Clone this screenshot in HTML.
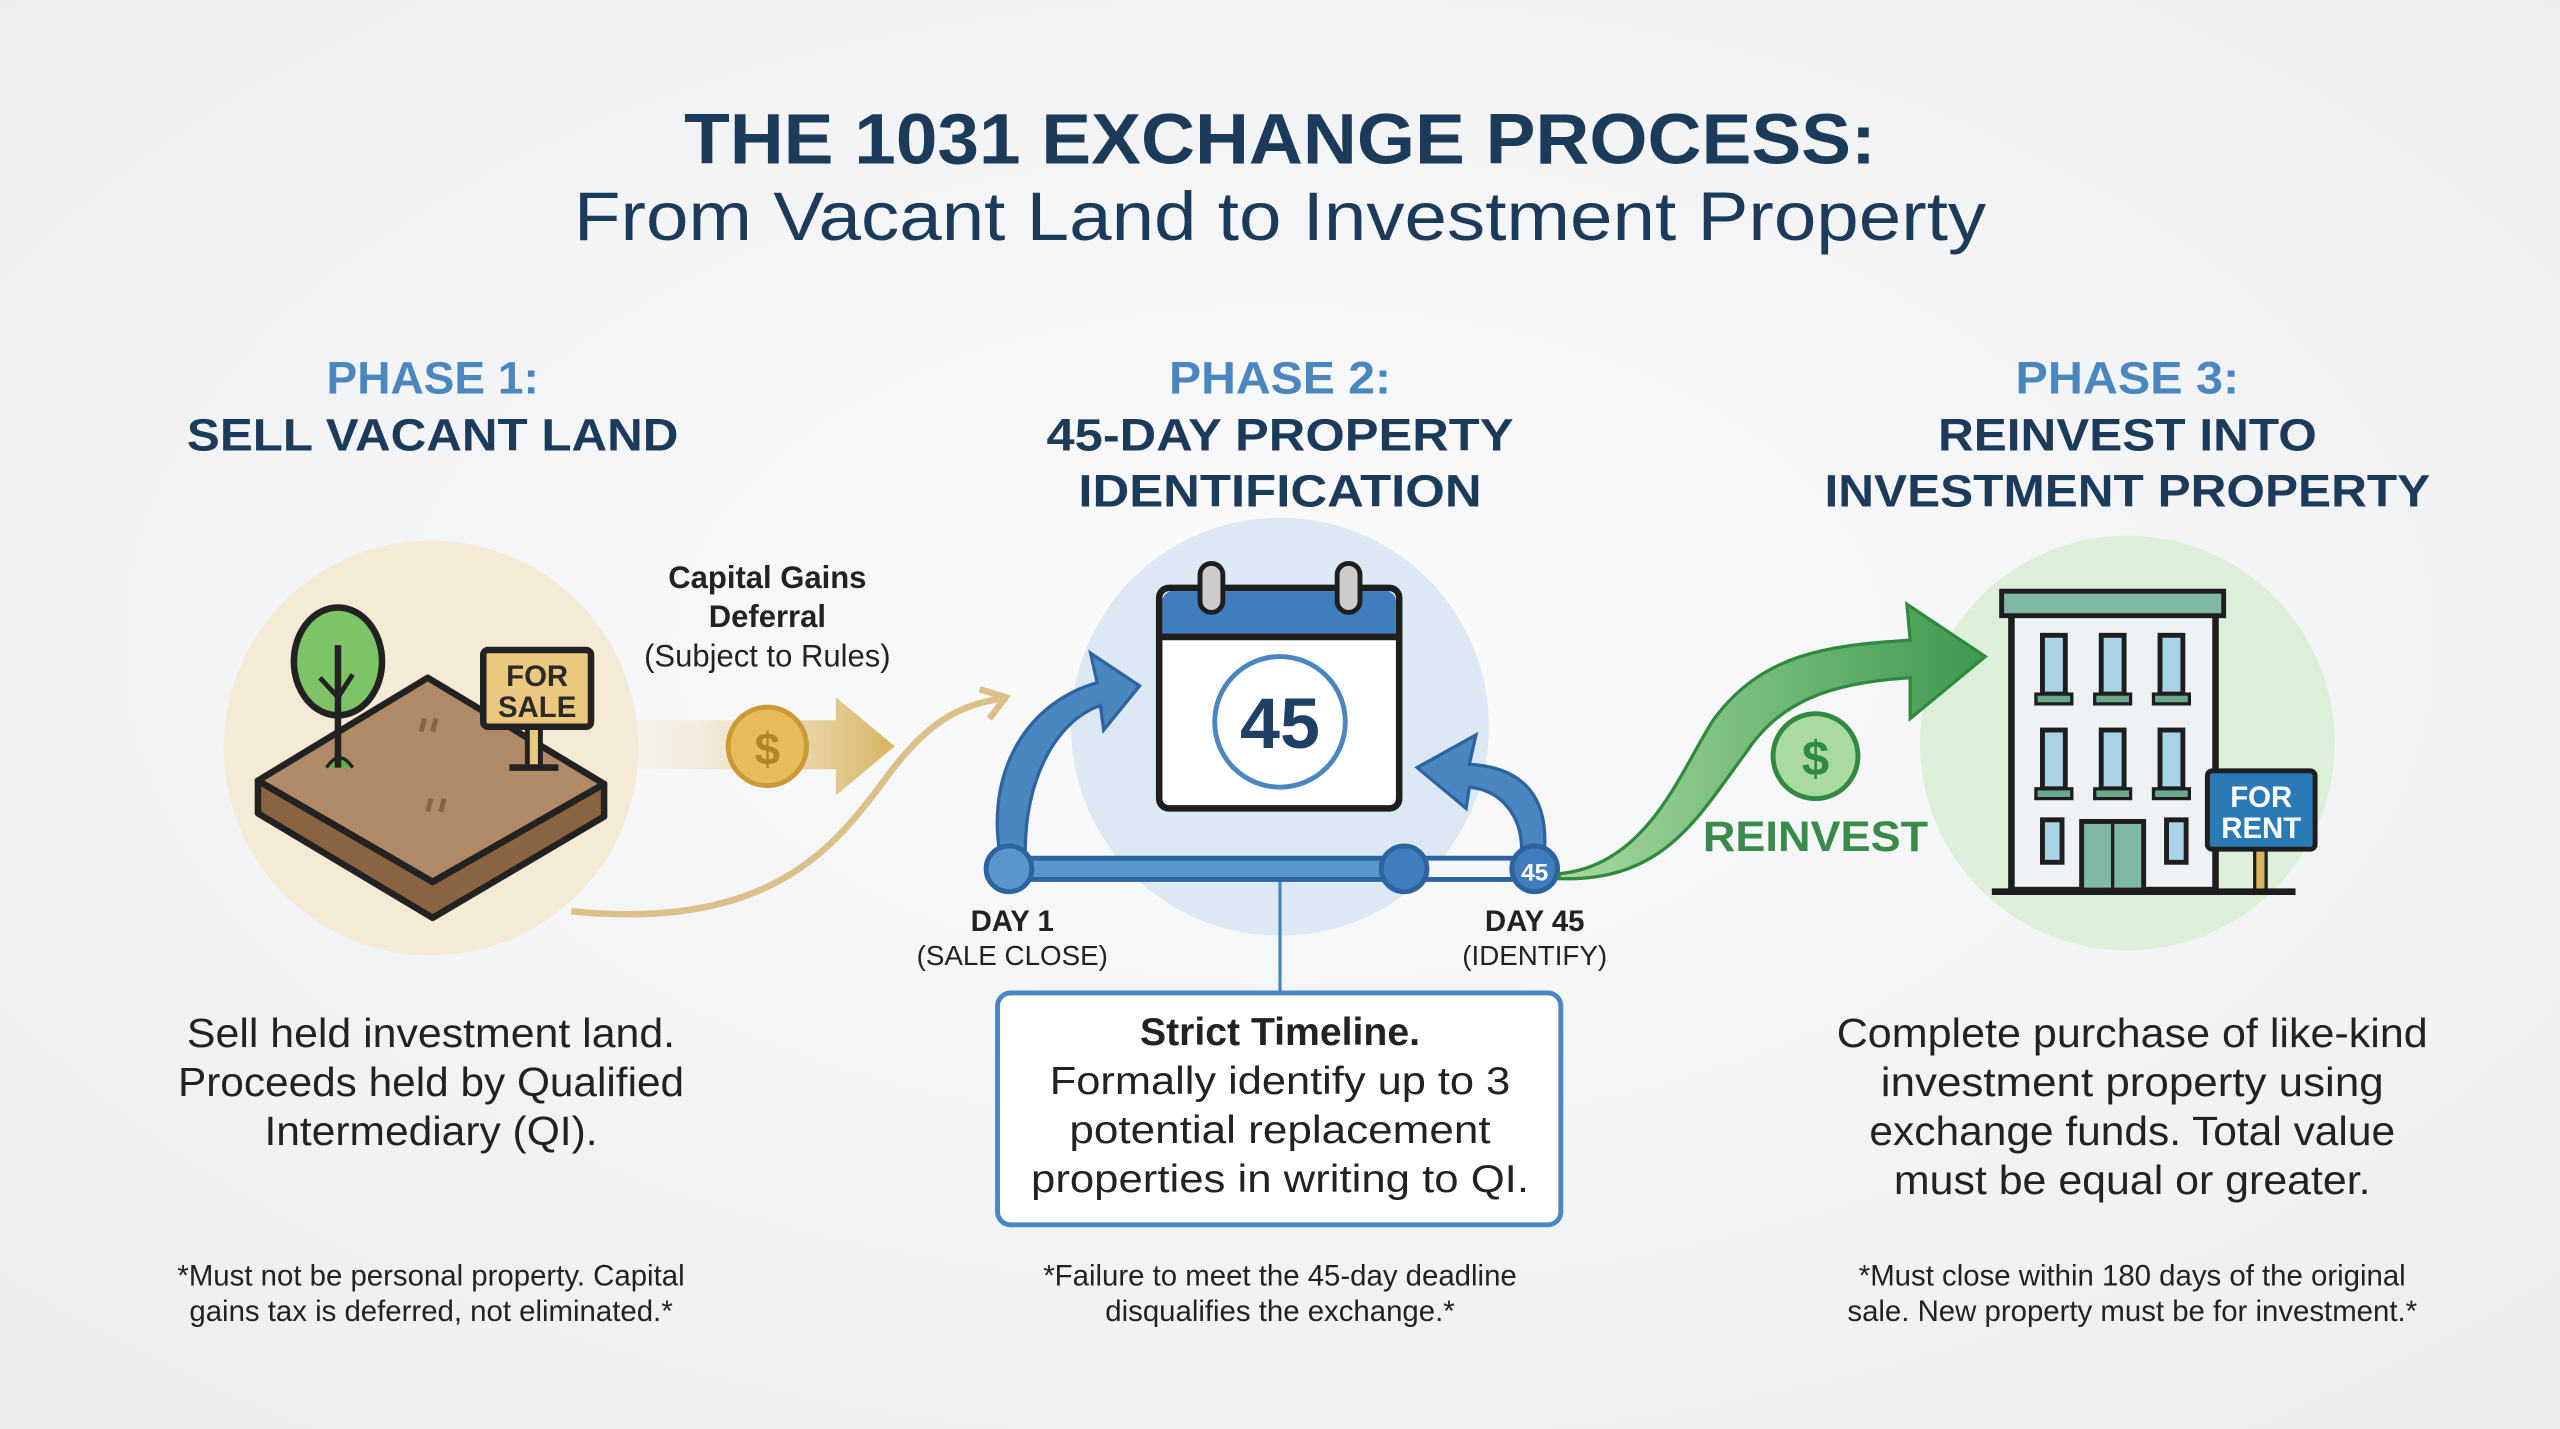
<!DOCTYPE html>
<html><head><meta charset="utf-8"><style>
html,body{margin:0;padding:0;background:#f4f5f6;}
svg{display:block;}
text{font-family:"Liberation Sans",sans-serif;}
</style></head><body>
<svg width="2560" height="1429" viewBox="0 0 1568 875" preserveAspectRatio="none" xmlns="http://www.w3.org/2000/svg">
<defs>
<radialGradient id="bg" cx="50%" cy="45%" r="70%"><stop offset="0" stop-color="#fbfbfc"/><stop offset="1" stop-color="#eceef0"/></radialGradient>
<linearGradient id="gold" x1="0" x2="1"><stop offset="0" stop-color="#f4ead6" stop-opacity="0.3"/><stop offset="1" stop-color="#d8b45e"/></linearGradient>
<linearGradient id="grn" x1="0" x2="1"><stop offset="0" stop-color="#a8d8a0"/><stop offset="1" stop-color="#3d9a4e"/></linearGradient>
</defs>
<rect width="1568" height="875" fill="url(#bg)"/>
<text x="784" y="100" text-anchor="middle" font-size="44" font-weight="bold" fill="#1c3a5a" textLength="730" lengthAdjust="spacingAndGlyphs">THE 1031 EXCHANGE PROCESS:</text>
<text x="784" y="147" text-anchor="middle" font-size="42" fill="#1c3a5a" textLength="865" lengthAdjust="spacingAndGlyphs">From Vacant Land to Investment Property</text>

<g font-size="28" font-weight="bold" text-anchor="middle" lengthAdjust="spacingAndGlyphs">
<text x="265" y="241" fill="#4a86c0" textLength="130" lengthAdjust="spacingAndGlyphs">PHASE 1:</text>
<text x="265" y="276" fill="#1c3a5a" textLength="301" lengthAdjust="spacingAndGlyphs">SELL VACANT LAND</text>
<text x="784" y="241" fill="#4a86c0" textLength="136" lengthAdjust="spacingAndGlyphs">PHASE 2:</text>
<text x="784" y="276" fill="#1c3a5a" textLength="286" lengthAdjust="spacingAndGlyphs">45-DAY PROPERTY</text>
<text x="784" y="310" fill="#1c3a5a" textLength="247" lengthAdjust="spacingAndGlyphs">IDENTIFICATION</text>
<text x="1303" y="241" fill="#4a86c0" textLength="137" lengthAdjust="spacingAndGlyphs">PHASE 3:</text>
<text x="1303" y="276" fill="#1c3a5a" textLength="232" lengthAdjust="spacingAndGlyphs">REINVEST INTO</text>
<text x="1303" y="310" fill="#1c3a5a" textLength="371" lengthAdjust="spacingAndGlyphs">INVESTMENT PROPERTY</text>
</g>

<circle cx="264" cy="458" r="127" fill="#f4ead6"/>
<circle cx="784" cy="445" r="128" fill="#dce8f3"/>
<circle cx="1303" cy="455" r="127" fill="#dcefd9"/>

<!-- land -->
<g stroke="#222" stroke-width="4" stroke-linejoin="round">
<polygon points="158,478 265,540 370,480 370,500 265,562 158,498" fill="#8a6440"/>
<polygon points="158,478 262,415 370,480 265,540" fill="#b08a66"/>
<line x1="158" y1="478" x2="265" y2="540"/><line x1="265" y1="540" x2="370" y2="480"/>
</g>
<path d="M200,470 q8,-12 16,0" fill="#5bb04e" stroke="#222" stroke-width="2"/>
<ellipse cx="207" cy="405" rx="27" ry="33" fill="#7cc466" stroke="#222" stroke-width="4"/>
<line x1="207" y1="395" x2="207" y2="470" stroke="#222" stroke-width="4"/>
<path d="M196,415 l11,12 l9,-14" fill="none" stroke="#222" stroke-width="3"/>
<rect x="323" y="445" width="8" height="25" fill="#e8c97a" stroke="#222" stroke-width="3"/>
<line x1="312" y1="470" x2="342" y2="470" stroke="#222" stroke-width="4"/>
<rect x="296" y="398" width="66" height="47" fill="#eac87e" stroke="#222" stroke-width="4" rx="3"/>
<text x="329" y="420" text-anchor="middle" font-size="18" font-weight="bold" fill="#2a2a2a">FOR</text>
<text x="329" y="439" text-anchor="middle" font-size="18" font-weight="bold" fill="#2a2a2a">SALE</text>
<path d="M258,448 l2,-8 M265,448 l2,-8 M262,497 l2,-8 M270,497 l2,-8" stroke="#8a6440" stroke-width="3"/>

<!-- gold arrow -->
<path d="M390,441 H512 V427 L548,457 L512,487 V471 H390 Z" fill="url(#gold)"/>
<circle cx="470" cy="457" r="24" fill="#e6bd5a" stroke="#c99a35" stroke-width="3"/>
<text x="470" y="468" text-anchor="middle" font-size="28" font-weight="bold" fill="#b0852a">$</text>
<text x="470" y="360" text-anchor="middle" font-size="19" font-weight="bold" fill="#222">Capital Gains</text>
<text x="470" y="384" text-anchor="middle" font-size="19" font-weight="bold" fill="#222">Deferral</text>
<text x="470" y="408" text-anchor="middle" font-size="19" fill="#222">(Subject to Rules)</text>
<path d="M350,558 C470,570 510,520 540,480 C565,445 585,432 612,428" fill="none" stroke="#dcc08a" stroke-width="4"/>
<path d="M600,422 L616,427 L606,440" fill="none" stroke="#dcc08a" stroke-width="4"/>

<!-- blue arrows -->
<path d="M612,520 C605,470 630,430 672,418 L668,400 L698,420 L676,447 L674,432 C645,442 628,480 628,520 Z" fill="#4a86c0" stroke="#2d64a0" stroke-width="2"/>
<path d="M946,520 C948,490 935,470 900,468 L904,450 L868,470 L898,495 L900,482 C920,484 932,500 932,520 Z" fill="#4a86c0" stroke="#2d64a0" stroke-width="2"/>

<!-- calendar -->
<rect x="710" y="360" width="147" height="135" rx="6" fill="#fff" stroke="#1e1e1e" stroke-width="4"/>
<path d="M712,390 V368 a6,6 0 0 1 6,-6 H849 a6,6 0 0 1 6,6 V390 Z" fill="#3f7dbd"/>
<line x1="710" y1="390" x2="857" y2="390" stroke="#1e1e1e" stroke-width="4"/>
<rect x="735" y="345" width="14" height="30" rx="7" fill="#ccc" stroke="#1e1e1e" stroke-width="3"/>
<rect x="819" y="345" width="14" height="30" rx="7" fill="#ccc" stroke="#1e1e1e" stroke-width="3"/>
<circle cx="784" cy="442" r="40" fill="#fff" stroke="#4a86c0" stroke-width="3"/>
<text x="784" y="458" text-anchor="middle" font-size="44" font-weight="bold" fill="#1f3f66">45</text>

<!-- timeline -->
<line x1="618" y1="532" x2="940" y2="532" stroke="#2d64a0" stroke-width="16" stroke-linecap="round"/>
<line x1="620" y1="532" x2="858" y2="532" stroke="#5a95cf" stroke-width="10"/>
<line x1="862" y1="532" x2="930" y2="532" stroke="#f4f7fa" stroke-width="10"/>
<circle cx="618" cy="532" r="14" fill="#5a95cf" stroke="#2d64a0" stroke-width="3"/>
<circle cx="860" cy="532" r="14" fill="#3f7dbd" stroke="#2d64a0" stroke-width="3"/>
<circle cx="940" cy="532" r="14" fill="#3f7dbd" stroke="#2d64a0" stroke-width="3"/>
<text x="940" y="539" text-anchor="middle" font-size="15" font-weight="bold" fill="#fff">45</text>
<text x="620" y="570" text-anchor="middle" font-size="18" font-weight="bold" fill="#222">DAY 1</text>
<text x="620" y="591" text-anchor="middle" font-size="17" fill="#222">(SALE CLOSE)</text>
<text x="940" y="570" text-anchor="middle" font-size="18" font-weight="bold" fill="#222">DAY 45</text>
<text x="940" y="591" text-anchor="middle" font-size="17" fill="#222">(IDENTIFY)</text>
<line x1="784" y1="540" x2="784" y2="608" stroke="#4a86c0" stroke-width="2"/>
<rect x="611" y="608" width="345" height="142" rx="8" fill="#fff" stroke="#4a86c0" stroke-width="3"/>
<g text-anchor="middle" font-size="24" fill="#222">
<text x="784" y="640" font-weight="bold">Strict Timeline.</text>
<text x="784" y="670" textLength="282" lengthAdjust="spacingAndGlyphs">Formally identify up to 3</text>
<text x="784" y="700" textLength="258" lengthAdjust="spacingAndGlyphs">potential replacement</text>
<text x="784" y="730" textLength="305" lengthAdjust="spacingAndGlyphs">properties in writing to QI.</text>
</g>

<!-- green arrow -->
<path d="M955,535 C1010,530 1030,470 1050,440 C1080,400 1120,395 1170,392 L1168,370 L1216,402 L1170,440 L1170,415 C1120,418 1090,430 1070,460 C1040,500 1020,540 955,538 Z" fill="url(#grn)" stroke="#2f8a40" stroke-width="2"/>
<circle cx="1112" cy="463" r="26" fill="#a9dba0" stroke="#2f8a40" stroke-width="3"/>
<text x="1112" y="475" text-anchor="middle" font-size="30" font-weight="bold" fill="#2f8a40">$</text>
<text x="1112" y="521" text-anchor="middle" font-size="26" font-weight="bold" fill="#3a8a4a" textLength="138" lengthAdjust="spacingAndGlyphs">REINVEST</text>

<!-- building -->
<rect x="1232" y="375" width="125" height="170" fill="#eef2f5" stroke="#1e1e1e" stroke-width="4"/>
<rect x="1226" y="362" width="136" height="15" fill="#7fb8a6" stroke="#1e1e1e" stroke-width="3"/>
<g fill="#a9d4e6" stroke="#1e1e1e" stroke-width="3">
<rect x="1251" y="389" width="14" height="36"/><rect x="1287" y="389" width="14" height="36"/><rect x="1323" y="389" width="14" height="36"/>
<rect x="1251" y="447" width="14" height="36"/><rect x="1287" y="447" width="14" height="36"/><rect x="1323" y="447" width="14" height="36"/>
<rect x="1251" y="502" width="12" height="26"/><rect x="1327" y="502" width="12" height="26"/>
</g>
<g fill="#6aa88f" stroke="#1e1e1e" stroke-width="2">
<rect x="1247" y="425" width="22" height="6"/><rect x="1283" y="425" width="22" height="6"/><rect x="1319" y="425" width="22" height="6"/>
<rect x="1247" y="483" width="22" height="6"/><rect x="1283" y="483" width="22" height="6"/><rect x="1319" y="483" width="22" height="6"/>
<rect x="1275" y="503" width="38" height="42" fill="#7fb8a6" stroke-width="3"/>
</g>
<line x1="1294" y1="503" x2="1294" y2="545" stroke="#1e1e1e" stroke-width="2"/>
<line x1="1220" y1="546" x2="1406" y2="546" stroke="#1e1e1e" stroke-width="4"/>
<rect x="1381" y="518" width="7" height="27" fill="#d8b45e" stroke="#1e1e1e" stroke-width="2"/>
<rect x="1352" y="472" width="66" height="48" rx="3" fill="#2a7ab5" stroke="#1e1e1e" stroke-width="3"/>
<text x="1385" y="494" text-anchor="middle" font-size="18" font-weight="bold" fill="#fff">FOR</text>
<text x="1385" y="513" text-anchor="middle" font-size="18" font-weight="bold" fill="#fff">RENT</text>

<!-- body text -->
<g text-anchor="middle" font-size="25" fill="#222">
<text x="264" y="641" textLength="299" lengthAdjust="spacingAndGlyphs">Sell held investment land.</text>
<text x="264" y="671" textLength="310" lengthAdjust="spacingAndGlyphs">Proceeds held by Qualified</text>
<text x="264" y="701" textLength="204" lengthAdjust="spacingAndGlyphs">Intermediary (QI).</text>
<text x="1306" y="641" textLength="362" lengthAdjust="spacingAndGlyphs">Complete purchase of like-kind</text>
<text x="1306" y="671" textLength="308" lengthAdjust="spacingAndGlyphs">investment property using</text>
<text x="1306" y="701" textLength="322" lengthAdjust="spacingAndGlyphs">exchange funds. Total value</text>
<text x="1306" y="731" textLength="292" lengthAdjust="spacingAndGlyphs">must be equal or greater.</text>
</g>
<g text-anchor="middle" font-size="18" fill="#222">
<text x="264" y="787">*Must not be personal property. Capital</text>
<text x="264" y="809">gains tax is deferred, not eliminated.*</text>
<text x="784" y="787">*Failure to meet the 45-day deadline</text>
<text x="784" y="809">disqualifies the exchange.*</text>
<text x="1306" y="787">*Must close within 180 days of the original</text>
<text x="1306" y="809">sale. New property must be for investment.*</text>
</g>
</svg>
</body></html>
